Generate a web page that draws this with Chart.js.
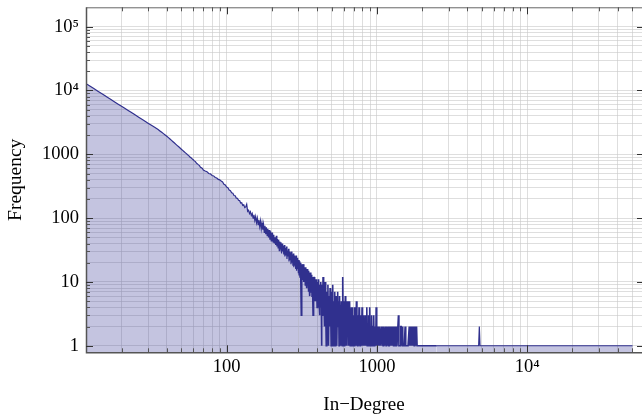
<!DOCTYPE html>
<html>
<head>
<meta charset="utf-8">
<script src="https://cdn.jsdelivr.net/npm/chart.js@4.4.1/dist/chart.umd.min.js"></script>
<style>
  body { margin: 0; background: #fff; }
  #wrap { width: 642px; height: 417px; }
</style>
</head>
<body>
<div id="wrap"><canvas id="degreeChart"></canvas></div>
<script>
// in-degree distribution
const inDegree = [
  11, 12, 13, 14, 15, 16, 17, 18, 19, 20, 21, 22, 23, 24, 25, 26, 27, 28, 29, 30,
  31, 32, 33, 34, 35, 36, 37, 38, 39, 40, 41, 42, 43, 44, 45, 46, 47, 48, 49, 50,
  51, 52, 53, 54, 55, 56, 57, 58, 59, 60, 61, 62, 63, 64, 65, 66, 67, 68, 69, 70,
  72, 74, 76, 78, 80, 82, 84, 86, 88, 90, 92, 94, 96, 98, 100,
  102, 104, 106, 108, 110, 112, 114, 116, 118, 120, 122, 124, 126, 128, 130,
  132, 134, 136, 138, 140, 142, 144, 146, 148, 150, 152, 154, 156, 158, 160,
  162, 164, 166, 168, 170, 172, 174, 176, 178, 180, 182, 184, 186, 188, 190,
  192, 194, 196, 198, 200,
  202, 204, 206, 208, 210, 212, 214, 216, 218, 220,
  222, 224, 226, 228, 230, 232, 234, 236, 238, 240,
  242, 244, 246, 248, 250, 252, 254, 256, 258, 260,
  262, 264, 266, 268, 270, 272, 274, 276, 278, 280,
  282, 284, 286, 288, 290, 292, 294, 296, 298, 300,
  302, 304, 306, 308, 310, 312, 314, 316, 318, 320,
  322, 324, 326, 328, 330, 332, 334, 336, 338, 340,
  342, 344, 346, 348, 350, 352, 354, 356, 358, 360,
  362, 364, 366, 368, 370, 372, 374, 376, 378, 380,
  382, 384, 386, 388, 390, 392, 394, 396, 398, 400,
  402, 404, 406, 408, 410, 412, 414, 416, 418, 420,
  422, 424, 426, 428, 430, 432, 434, 436, 438, 440,
  444, 448, 452, 456, 460, 464, 468, 472, 476, 480,
  484, 488, 492, 496, 500, 504, 508, 512, 516, 520,
  524, 528, 532, 536, 540, 544, 548, 552, 556, 560,
  564, 568, 572, 576, 580, 584, 588, 592, 596, 600,
  604, 608, 612, 616, 620, 624, 628, 632, 636, 640,
  644, 648, 652, 656, 660, 664, 668, 672, 676, 680,
  684, 688, 692, 696, 700,
  706, 712, 718, 724, 730, 736, 742, 748, 754, 760,
  766, 772, 778, 784, 790, 796, 802, 808, 814, 820,
  826, 832, 838, 844, 850, 856, 862, 868, 874, 880,
  886, 892, 898, 904, 910, 916, 922, 928, 934, 940,
  946, 952, 958, 964, 970, 976, 982, 988, 994, 1000,
  1010, 1020, 1030, 1040, 1050, 1060, 1070, 1080, 1090, 1100,
  1110, 1120, 1130, 1140, 1150, 1160, 1170, 1180, 1190, 1200,
  1210, 1220, 1230, 1240, 1250, 1260, 1270, 1280, 1290, 1300,
  1310, 1320, 1330, 1340, 1350, 1360, 1370, 1380, 1390, 1400,
  1410, 1420, 1430, 1440, 1450, 1460, 1470, 1480, 1490, 1500,
  1510, 1520, 1530, 1540, 1550, 1560, 1570, 1580, 1590, 1600,
  1610, 1620, 1630, 1640, 1650, 1660, 1670, 1680, 1690, 1700,
  1710, 1720, 1730, 1740, 1750, 1760, 1770, 1780, 1790, 1800,
  1810, 1820, 1830, 1840, 1850, 1860,
  2500, 4750, 4800, 4850, 50200
];

const frequency = [
  13870, 12170, 10790, 9657, 8704, 7902, 7218, 6624, 6108, 5655, 5256, 4902, 4586, 4302, 4046, 3815, 3605, 3414, 3239, 3078,
  2930, 2794, 2668, 2551, 2443, 2322, 2211, 2107, 2011, 1921, 1824, 1734, 1650, 1573, 1500, 1432, 1369, 1310, 1254, 1202,
  1153, 1107, 1064, 1023, 984, 955, 905, 880, 849, 820, 789, 768, 726, 707, 682, 665, 628, 615, 600, 568,
  548, 534, 500, 493, 465, 458, 433, 426, 404, 398, 380, 368, 340, 330, 306,
  300, 276, 270, 250, 246, 226, 224, 206, 205, 190, 188, 172, 174, 158, 162,
  146, 150, 165, 128, 133, 118, 126, 110, 118, 100, 113, 92, 106, 85, 100,
  79, 94, 74, 90, 68, 84, 66, 80, 60, 76, 56, 72, 53, 68, 50,
  65, 46, 62, 44, 58,
  58, 42, 55, 40, 50, 38, 53, 36, 47, 34,
  46, 31, 43, 33, 42, 28, 40, 30, 37, 27,
  38, 25, 34, 26, 36, 23, 31, 25, 33, 21,
  30, 22, 29, 19, 30, 20, 27, 18, 28, 17,
  26, 18, 25, 16, 26, 15, 23, 16, 24, 14,
  22, 13, 21, 12, 20, 14, 3, 19, 11, 18,
  12, 19, 10, 17, 11, 16, 9, 17, 10, 15,
  8, 16, 10, 14, 7, 15, 9, 13, 6, 14,
  8, 12, 7, 13, 6, 12, 8, 3, 11, 6,
  12, 5, 11, 7, 10, 5, 11, 6, 9, 4,
  10, 6, 9, 4, 11, 5, 8, 3, 9, 5,
  10, 4, 8, 1, 9, 3, 7, 4, 12, 3,
  8, 2, 10, 4, 1, 7, 3, 9, 1, 6,
  2, 8, 4, 1, 7, 3, 9, 1, 5, 2,
  7, 1, 4, 6, 1, 3, 7, 2, 5, 1,
  6, 2, 4, 1, 5, 3, 1, 12, 2, 5,
  1, 4, 2, 6, 1, 3, 5, 1, 4, 2,
  5, 1, 3, 2, 5, 1, 3, 1, 4, 2,
  1, 4, 2, 1, 3,
  1, 4, 2, 1, 5, 2, 1, 3, 1, 4,
  2, 1, 3, 2, 1, 4, 1, 2, 3, 1,
  2, 1, 3, 1, 2, 4, 1, 2, 1, 3,
  1, 2, 4, 1, 2, 1, 3, 1, 2, 1,
  2, 3, 1, 2, 1, 2, 1, 4, 1, 2,
  1, 2, 1, 2, 1, 1, 2, 1, 2, 1,
  2, 1, 1, 2, 1, 2, 1, 1, 2, 1,
  1, 1, 2, 1, 2, 1, 1, 2, 1, 1,
  1, 2, 1, 1, 2, 1, 1, 1, 3, 1,
  1, 1, 1, 2, 2, 1, 2, 2, 1, 1,
  1, 1, 1, 2, 1, 1, 1, 1, 1, 1,
  1, 1, 1, 2, 1, 2, 1, 1, 2, 1,
  2, 1, 1, 2, 1, 2, 1, 2, 2, 1,
  1, 2, 1, 2, 1, 1,
  1, 1, 2, 1, 1
];

// grid / tick positions and labels
const xGrid = [20, 30, 40, 50, 60, 70, 80, 90, 100, 200, 300, 400, 500, 600, 700, 800, 900,
  1000, 2000, 3000, 4000, 5000, 6000, 7000, 8000, 9000, 10000, 20000, 30000, 40000, 50000];
const yGrid = [1, 2, 3, 4, 5, 6, 7, 8, 9, 10, 20, 30, 40, 50, 60, 70, 80, 90,
  100, 200, 300, 400, 500, 600, 700, 800, 900, 1000, 2000, 3000, 4000, 5000, 6000, 7000, 8000, 9000,
  10000, 20000, 30000, 40000, 50000, 60000, 70000, 80000, 90000, 100000];

const xTickValues = [100, 1000, 10000];
const xTickLabels = ['100', '1000', '10⁴'];
const yTickValues = [1, 10, 100, 1000, 10000, 100000];
const yTickLabels = ['1', '10', '100', '1000', '10⁴', '10⁵'];

const xMin = 11.6, xMax = 58000;
const yMin = 0.79, yMax = 201000;

const serif = 'Liberation Serif';

// Mathematica-style frame: inward ticks on all sides
const frameTicks = {
  id: 'frameTicks',
  afterDraw(chart) {
    const { ctx, chartArea: { left, right, top, bottom }, scales: { x, y } } = chart;
    ctx.save();
    ctx.lineWidth = 1;
    ctx.strokeStyle = '#666';
    ctx.beginPath();
    ctx.moveTo(left + 0.5, top + 0.5);
    ctx.lineTo(right, top + 0.5);
    ctx.stroke();
    ctx.strokeStyle = '#555';
    ctx.lineWidth = 1.5;
    ctx.beginPath();
    ctx.moveTo(left + 0.5, top);
    ctx.lineTo(left + 0.5, bottom + 0.5);
    ctx.lineTo(right, bottom + 0.5);
    ctx.stroke();

    ctx.lineWidth = 1;
    xGrid.forEach(v => {
      const px = Math.round(x.getPixelForValue(v)) + 0.5;
      const major = xTickValues.includes(v);
      const len = major ? 7 : 4;
      ctx.strokeStyle = major ? '#333' : '#555';
      ctx.beginPath();
      ctx.moveTo(px, bottom);
      ctx.lineTo(px, bottom - len);
      ctx.moveTo(px, top);
      ctx.lineTo(px, top + len);
      ctx.stroke();
    });
    yGrid.forEach(v => {
      const py = Math.round(y.getPixelForValue(v)) + 0.5;
      const major = yTickValues.includes(v);
      const len = major ? 7 : 4;
      ctx.strokeStyle = major ? '#333' : '#555';
      ctx.beginPath();
      ctx.moveTo(left, py);
      ctx.lineTo(left + len, py);
      if (major) {
        ctx.moveTo(right, py);
        ctx.lineTo(right - 5, py);
      }
      ctx.stroke();
    });
    ctx.restore();
  }
};

const ctx = document.getElementById('degreeChart').getContext('2d');

new Chart(ctx, {
  type: 'line',
  data: {
    datasets: [{
      data: inDegree.map((d, i) => ({ x: d, y: frequency[i] })),
      borderColor: 'rgb(48, 48, 142)',
      borderWidth: 1.2,
      backgroundColor: 'rgba(61, 61, 153, 0.3)',
      fill: 'start',
      tension: 0,
      pointRadius: 0,
      // the noisy tail is drawn a touch heavier, like the dense original
      segment: { borderWidth: c => c.p0.parsed.x > 300 && c.p0.parsed.x < 2000 ? 1.6 : undefined }
    }]
  },
  options: {
    responsive: true,
    maintainAspectRatio: false,
    animation: false,
    layout: { padding: { top: 7.3, right: 0, left: 0, bottom: 0 } },
    plugins: {
      legend: { display: false },
      tooltip: { enabled: false }
    },
    scales: {
      x: {
        type: 'logarithmic',
        position: 'bottom',
        min: xMin,
        max: xMax,
        z: 1,
        afterBuildTicks: s => { s.ticks = xGrid.map(v => ({ value: v })); },
        afterFit: s => { s.height = 64.7; s.paddingLeft = 0; s.paddingRight = 0; },
        border: { display: false },
        grid: { color: 'rgba(200, 200, 200, 0.6)', lineWidth: 1, drawTicks: false },
        ticks: {
          autoSkip: false,
          maxRotation: 0,
          padding: 4,
          color: '#000',
          font: { size: 18.5, family: serif },
          callback: v => {
            const i = xTickValues.indexOf(v);
            return i >= 0 ? xTickLabels[i] : '';
          }
        },
        title: {
          display: true,
          text: 'In−Degree',
          color: '#000',
          font: { size: 19, family: serif },
          padding: { top: 0, bottom: 1 }
        }
      },
      y: {
        type: 'logarithmic',
        position: 'left',
        min: yMin,
        max: yMax,
        z: 1,
        afterBuildTicks: s => { s.ticks = yGrid.map(v => ({ value: v })); },
        afterFit: s => { s.width = 86; s.paddingTop = 0; s.paddingBottom = 0; },
        border: { display: false },
        grid: { color: 'rgba(200, 200, 200, 0.6)', lineWidth: 1, drawTicks: false },
        ticks: {
          autoSkip: false,
          padding: 7,
          color: '#000',
          font: { size: 18.5, family: serif },
          callback: v => {
            const i = yTickValues.indexOf(v);
            return i >= 0 ? yTickLabels[i] : '';
          }
        },
        title: {
          display: true,
          text: 'Frequency',
          color: '#000',
          font: { size: 19.5, family: serif },
          padding: { top: 4, bottom: 0 }
        }
      }
    }
  },
  plugins: [frameTicks]
});
</script>
</body>
</html>
